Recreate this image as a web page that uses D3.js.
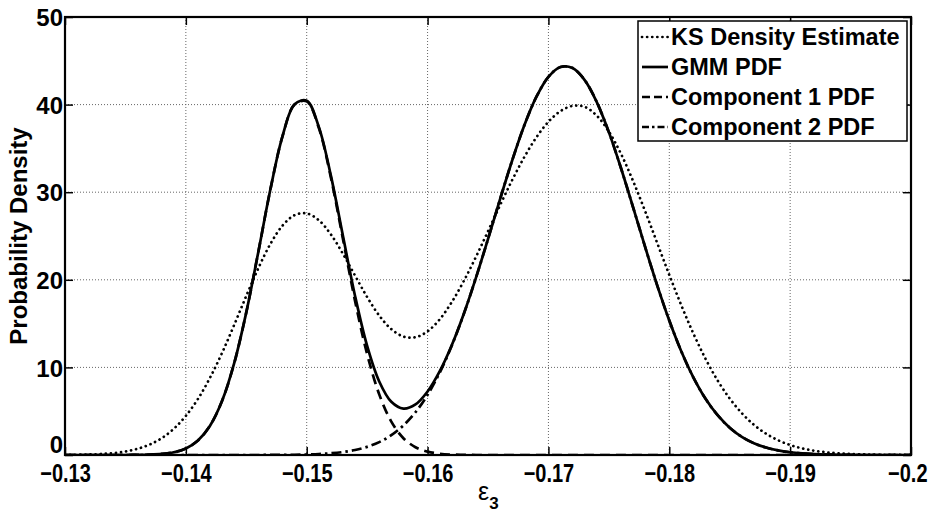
<!DOCTYPE html>
<html>
<head>
<meta charset="utf-8">
<script src="https://cdn.jsdelivr.net/npm/d3@7"></script>
<style>
  body { margin: 0; background: #fff; }
  svg { display: block; }
  text { font-family: "Liberation Sans", Arial, sans-serif; font-weight: bold; fill: #000; }
</style>
</head>
<body>
<div id="chart"></div>
<script>
// sample positions along epsilon_3 (axis runs from -0.13 to -0.2)
const epsilon = [
  -0.130, -0.131, -0.132, -0.133, -0.134, -0.135, -0.136, -0.137, -0.138, -0.139,
  -0.140, -0.141, -0.142, -0.143, -0.144, -0.145, -0.146, -0.147, -0.148, -0.149,
  -0.150, -0.151, -0.152, -0.153, -0.154, -0.155, -0.156, -0.157, -0.158, -0.159,
  -0.160, -0.161, -0.162, -0.163, -0.164, -0.165, -0.166, -0.167, -0.168, -0.169,
  -0.170, -0.171, -0.172, -0.173, -0.174, -0.175, -0.176, -0.177, -0.178, -0.179,
  -0.180, -0.181, -0.182, -0.183, -0.184, -0.185, -0.186, -0.187, -0.188, -0.189,
  -0.190, -0.191, -0.192, -0.193, -0.194, -0.195, -0.196, -0.197, -0.198, -0.199,
  -0.200
];

const ksDensity = [
  0.01, 0.03, 0.06, 0.12, 0.22, 0.40, 0.71, 1.19, 1.92, 2.99,
  4.47, 6.40, 8.82, 11.67, 14.85, 18.16, 21.33, 24.11, 26.19, 27.38,
  27.58, 26.80, 25.18, 22.96, 20.48, 18.03, 15.92, 14.37, 13.52, 13.44,
  14.12, 15.48, 17.45, 19.87, 22.61, 25.54, 28.52, 31.38, 34.00, 36.26,
  38.04, 39.26, 39.85, 39.74, 38.74, 36.92, 34.39, 31.29, 27.84, 24.20,
  20.56, 17.07, 13.85, 10.98, 8.51, 6.45, 4.78, 3.45, 2.44, 1.69,
  1.14, 0.75, 0.49, 0.31, 0.19, 0.11, 0.07, 0.04, 0.02, 0.01,
  0.01
];

const gmmPdf = [
  0, 0, 0, 0, 0, 0, 0.01, 0.04, 0.12, 0.31,
  0.75, 1.66, 3.34, 6.18, 10.48, 16.28, 23.21, 30.36, 36.41, 40.05,
  40.43, 37.46, 31.89, 25.00, 18.16, 12.45, 8.39, 6.07, 5.29, 5.77,
  7.25, 9.54, 12.53, 16.13, 20.22, 24.65, 29.21, 33.62, 37.61, 40.87,
  43.17, 44.30, 44.17, 42.80, 40.29, 36.86, 32.76, 28.30, 23.75, 19.37,
  15.35, 11.81, 8.84, 6.42, 4.54, 3.12, 2.08, 1.35, 0.85, 0.52,
  0.31, 0.18, 0.10, 0.05, 0.03, 0.01, 0, 0, 0, 0,
  0
];

const comp1Pdf = [
  0, 0, 0, 0, 0, 0, 0.01, 0.04, 0.12, 0.31,
  0.75, 1.66, 3.34, 6.18, 10.48, 16.28, 23.21, 30.35, 36.39, 40.02,
  40.37, 37.35, 31.69, 24.66, 17.59, 11.52, 6.92, 3.81, 1.92, 0.89,
  0.38, 0.15, 0.05, 0.02, 0, 0, 0, 0, 0, 0,
  0, 0, 0, 0, 0, 0, 0, 0, 0, 0,
  0, 0, 0, 0, 0, 0, 0, 0, 0, 0,
  0, 0, 0, 0, 0, 0, 0, 0, 0, 0,
  0
];

const comp2Pdf = [
  0, 0, 0, 0, 0, 0, 0, 0, 0, 0,
  0, 0, 0, 0, 0, 0, 0, 0.01, 0.02, 0.03,
  0.06, 0.11, 0.20, 0.34, 0.57, 0.93, 1.47, 2.26, 3.37, 4.88,
  6.87, 9.39, 12.48, 16.11, 20.22, 24.65, 29.21, 33.62, 37.61, 40.87,
  43.17, 44.30, 44.17, 42.80, 40.29, 36.86, 32.76, 28.30, 23.75, 19.37,
  15.35, 11.81, 8.84, 6.42, 4.54, 3.12, 2.08, 1.35, 0.85, 0.52,
  0.31, 0.18, 0.10, 0.05, 0.03, 0.01, 0, 0, 0, 0,
  0
];

const xTicks = [-0.13, -0.14, -0.15, -0.16, -0.17, -0.18, -0.19, -0.2];
const yTicks = [0, 10, 20, 30, 40, 50];
const seriesNames = ["KS Density Estimate", "GMM PDF", "Component 1 PDF", "Component 2 PDF"];
const seriesDash = ["0.1,5", null, "10,6", "10,4,2.5,4"];
const legendDash = ["0.1,5", null, "8,4", "7,3,2.5,3"];

const dims = { width: 929, height: 518 };
const margin = { top: 17, right: 18, bottom: 63, left: 65 };
const inner = {
  w: dims.width - margin.left - margin.right,
  h: dims.height - margin.top - margin.bottom
};

const svg = d3
  .select("#chart")
  .append("svg")
  .attr("width", dims.width)
  .attr("height", dims.height);

const graph = svg
  .append("g")
  .attr("transform", `translate(${margin.left}, ${margin.top})`);

const x = d3.scaleLinear().domain([-0.13, -0.2]).range([0, inner.w]);
const y = d3.scaleLinear().domain([0, 50]).range([inner.h, 0]);

// dotted grid
graph
  .append("g")
  .selectAll("line")
  .data(xTicks.slice(1, -1))
  .join("line")
  .attr("x1", (d) => x(d))
  .attr("x2", (d) => x(d))
  .attr("y1", 0)
  .attr("y2", inner.h)
  .attr("stroke", "#666")
  .attr("stroke-width", 1)
  .attr("stroke-dasharray", "1,2");

graph
  .append("g")
  .selectAll("line")
  .data(yTicks.slice(1, -1))
  .join("line")
  .attr("x1", 0)
  .attr("x2", inner.w)
  .attr("y1", (d) => y(d))
  .attr("y2", (d) => y(d))
  .attr("stroke", "#666")
  .attr("stroke-width", 1)
  .attr("stroke-dasharray", "1,2");

svg
  .append("clipPath")
  .attr("id", "plot-clip")
  .append("rect")
  .attr("width", inner.w)
  .attr("height", inner.h + 2)
  .attr("y", -1);

const series = [ksDensity, gmmPdf, comp1Pdf, comp2Pdf];
const line = d3
  .line()
  .x((d, i) => x(epsilon[i]))
  .y((d) => y(d))
  .curve(d3.curveCatmullRom.alpha(0.5));

const curves = graph.append("g").attr("clip-path", "url(#plot-clip)");
series.forEach((values, k) => {
  curves
    .append("path")
    .datum(values)
    .attr("fill", "none")
    .attr("stroke", "#000")
    .attr("stroke-width", 2.7)
    .attr("stroke-linecap", k === 0 ? "round" : "butt")
    .attr("stroke-dasharray", seriesDash[k])
    .attr("d", line);
});

// axes: inward ticks on all four sides, box around the plot
const tickLen = 8;
const xAxisBottom = d3.axisBottom(x).tickValues(xTicks).tickSize(-tickLen).tickFormat(d3.format("~g"));
const yAxisLeft = d3.axisLeft(y).tickValues(yTicks).tickSize(-tickLen).tickFormat(d3.format("d"));

const gx = graph
  .append("g")
  .attr("transform", `translate(0, ${inner.h})`)
  .call(xAxisBottom);
gx.select(".domain").remove();
gx.selectAll("line").attr("stroke", "#000").attr("stroke-width", 1.5);
gx.selectAll("text")
  .attr("y", 0)
  .attr("dy", 0)
  .attr("transform", "translate(0, 27) scale(0.8, 1)")
  .style("font-size", "25px")
  .style("font-family", '"Liberation Sans", Arial, sans-serif')
  .style("font-weight", "bold");
// keep the last label inside the window
gx.selectAll("text")
  .filter((d) => d === -0.2)
  .attr("text-anchor", "end")
  .attr("x", 16 / 0.8);

const gy = graph.append("g").call(yAxisLeft);
gy.select(".domain").remove();
gy.selectAll("line").attr("stroke", "#000").attr("stroke-width", 1.5);
gy.selectAll("text")
  .attr("x", -2)
  .attr("dy", "0.36em")
  .style("font-size", "24px")
  .style("font-family", '"Liberation Sans", Arial, sans-serif')
  .style("font-weight", "bold");
// the zero label sits higher so it clears the x tick label
gy.selectAll("text").filter((d) => d === 0).attr("dy", "-0.1em");

// top and right ticks
graph
  .append("g")
  .call(d3.axisTop(x).tickValues(xTicks).tickSize(-tickLen).tickFormat(""))
  .call((g) => g.select(".domain").remove())
  .selectAll("line")
  .attr("stroke", "#000")
  .attr("stroke-width", 1.5);

graph
  .append("g")
  .attr("transform", `translate(${inner.w}, 0)`)
  .call(d3.axisRight(y).tickValues(yTicks).tickSize(-tickLen).tickFormat(""))
  .call((g) => g.select(".domain").remove())
  .selectAll("line")
  .attr("stroke", "#000")
  .attr("stroke-width", 1.5);

graph
  .append("rect")
  .attr("width", inner.w)
  .attr("height", inner.h)
  .attr("fill", "none")
  .attr("stroke", "#000")
  .attr("stroke-width", 2.2);

// axis titles
svg
  .append("text")
  .attr("transform", `translate(27, ${margin.top + inner.h / 2}) rotate(-90)`)
  .attr("text-anchor", "middle")
  .style("font-size", "24px")
  .text("Probability Density");

const xTitle = svg
  .append("text")
  .attr("x", margin.left + inner.w / 2 - 10)
  .attr("y", 500)
  .style("font-size", "25px");
xTitle.append("tspan").style("font-weight", "normal").text("ε");
xTitle.append("tspan").attr("dy", 9).style("font-size", "17px").text("3");

// legend
const legend = { x: 638, y: 21, w: 269, h: 120 };
const legendGroup = svg.append("g").attr("transform", `translate(${legend.x}, ${legend.y})`);

legendGroup
  .append("rect")
  .attr("width", legend.w)
  .attr("height", legend.h)
  .attr("fill", "#fff")
  .attr("stroke", "#000")
  .attr("stroke-width", 1.5);

const rowH = legend.h / seriesNames.length;
seriesNames.forEach((name, k) => {
  const cy = rowH * k + rowH / 2 + 1;
  legendGroup
    .append("line")
    .attr("x1", 4)
    .attr("x2", 30)
    .attr("y1", cy)
    .attr("y2", cy)
    .attr("stroke", "#000")
    .attr("stroke-width", 2.7)
    .attr("stroke-linecap", k === 0 ? "round" : "butt")
    .attr("stroke-dasharray", legendDash[k]);
  legendGroup
    .append("text")
    .attr("x", 33)
    .attr("y", cy)
    .attr("dy", "0.36em")
    .style("font-size", "23.5px")
    .text(name);
});
</script>
</body>
</html>
